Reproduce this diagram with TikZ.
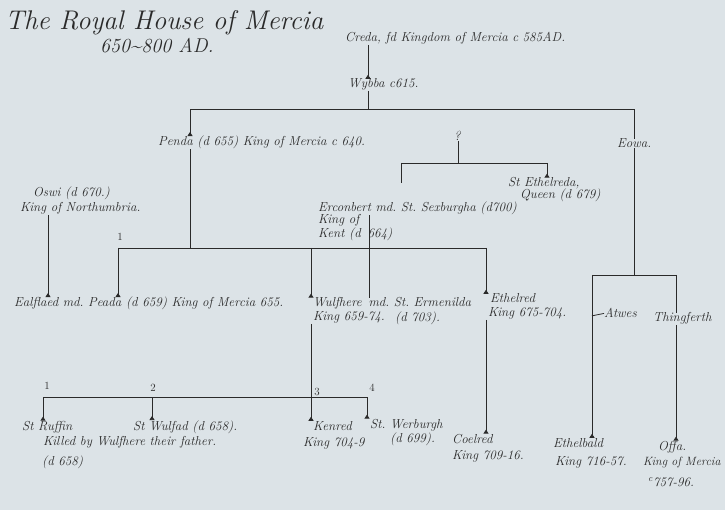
\documentclass[tikz,border=0pt]{standalone}
\usepackage{tikz}
\definecolor{paper}{HTML}{DCE3E7}
\definecolor{ink}{HTML}{2A2A2A}
\usetikzlibrary{arrows.meta,calc}
\tikzset{person/.style={
    font=\fontsize{13}{15}\selectfont\itshape,
    text=ink,
    inner sep=0pt,
    anchor=base west}}
\tikzset{line/.style={
    draw=ink,
    line width=0.8pt}}
\tikzset{kid/.style={
    line,
    -{Triangle[reversed,length=4pt,width=5pt]}}}
\tikzset{num/.style={
    font=\fontsize{11}{13}\selectfont,
    text=ink,
    inner sep=0pt,
    anchor=base}}
\frenchspacing

\begin{document}
\begin{tikzpicture}[x=1pt, y=-1pt]
  \fill[paper] (0,0) rectangle (725,510);
\useasboundingbox (0,0) rectangle (725,510);

\coordinate (W) at (368,109);
\coordinate (P) at (190,248);
\coordinate (P1) at (118,248);
\coordinate (P2) at (486,248);
\coordinate (E) at (634,275);
\coordinate (E1) at (592,275);
\coordinate (E2) at (676,275);
\coordinate (Q) at (458,163);
\coordinate (Q1) at (401,163);
\coordinate (Q2) at (547,163);
\coordinate (Q3) at (401,183);
\coordinate (S) at (369,0);
\coordinate (O) at (48,0);
\coordinate (U) at (311,397);
\coordinate (U1) at (43,397);
\coordinate (U2) at (152,397);
\coordinate (U4) at (367,397);

% title
\node[person,
  font=\fontsize{27}{30}\selectfont\itshape] (title) at (5,30) {The Royal House of Mercia};
\node[person,
  font=\fontsize{20}{22}\selectfont\itshape] (dates) at (100,53) {650\textasciitilde800 AD.};

% people
\node[person] (creda) at (345,42) {Creda, fd Kingdom of Mercia c 585AD.};
\node[person] (wybba) at (348,88) {Wybba c615.};
\node[person] (penda) at (158,146) {Penda (d 655) King of Mercia c 640.};
\node[person] (eowa) at (617,148) {Eowa.};
\node[person] (q) at (454,141) {?};
\node[person] (ethelreda) at (508,187) {St Ethelreda,};
\node[person] (ethelreda2) at (520,199) {Queen (d 679)};
\node[person] (oswi) at (33,197) {Oswi (d 670.)};
\node[person] (oswi2) at (20,212) {King of Northumbria.};
\node[person] (erconbert) at (318,212) {Erconbert md. St. Sexburgha (d700)};
\node[person] (erconbert2) at (318,224) {King of};
\node[person] (erconbert3) at (318,238) {Kent (d \,664)};
\node[person] (ealflaed) at (14,307) {Ealflaed md. Peada (d 659) King of Mercia 655.};
\node[person] (wulfhere) at (313,307) {Wulfhere \,md. St. Ermenilda};
\node[person] (wulfhere2) at (313,321) {King 659-74.};
\node[person] (ermenilda) at (395,322) {(d 703).};
\node[person] (ethelred) at (490,303) {Ethelred};
\node[person] (ethelred2) at (488,317) {King 675-704.};
\node[person] (atwes) at (604,318) {Atwes};
\node[person] (thingferth) at (653,322) {Thingferth};
\node[person] (ruffin) at (22,430) {St Ruffin};
\node[person] (ruffin2) at (43,445) {Killed by Wulfhere their father.};
\node[person] (ruffin3) at (42,465) {(d 658)};
\node[person] (wulfad) at (133,430) {St Wulfad (d 658).};
\node[person] (kenred) at (313,430) {Kenred};
\node[person] (kenred2) at (303,446) {King 704-9};
\node[person] (werburgh) at (370,428) {St. Werburgh};
\node[person] (werburgh2) at (390,442) {(d 699).};
\node[person] (coelred) at (452,443) {Coelred};
\node[person] (coelred2) at (452,459) {King 709-16.};
\node[person] (ethelbald) at (553,447) {Ethelbald};
\node[person] (ethelbald2) at (555,465) {King 716-57.};
\node[person] (offa) at (658,450) {Offa.};
\node[person,
  font=\fontsize{12}{14}\selectfont\itshape] (offa2) at (643,465) {King of Mercia};
\node[person] (offa3) at (648,486) {\textsuperscript{c}757-96.};

% numbers
\node[num] (n0) at (120,241) {1};
\node[num] (n1) at (47,389) {1};
\node[num] (n2) at (153,391) {2};
\node[num] (n3) at (317,395) {3};
\node[num] (n4) at (372,391) {4};

% lines
\draw[kid] (creda.south -| W) -- (wybba.north -| W);
\draw[line] (wybba.south -| W) -- (W);
\draw[kid] (W) -| (penda.north -| P);
\draw[line] (W) -| (eowa.north -| E);
\draw[line] (eowa.south -| E) -- (E);
\draw[line] (E1) -- (E2);
\draw[kid] (E1) -- (ethelbald.north -| E1);
\draw[line] (E1 |- atwes.mid) -- (atwes.west);
\draw[line] (E2) -- (thingferth.north -| E2);
\draw[kid] (thingferth.south -| E2) -- (offa.north -| E2);

\draw[line] (penda.south -| P) -- (P);
\draw[line] (P1) -- (P2);
\draw[kid] (P1) -- (ealflaed.north -| P1);
\draw[kid] (U |- P1) -- (wulfhere.north -| U);
\draw[kid] (P2) -- (ethelred.north -| P2);
\draw[kid] (ethelred2.south -| P2) -- (coelred.north -| P2);
\draw[kid] (oswi2.south -| O) -- (ealflaed.north -| O);

\draw[line] (q.south -| Q) -- (Q);
\draw[line] (Q1) -- (Q2);
\draw[line] (Q1) -- (Q3);
\draw[kid] (Q2) -- (ethelreda.north -| Q2);
\draw[line] (erconbert.south -| S) -- (wulfhere.north -| S);

\draw[line] (wulfhere2.south -| U) -- (U);
\draw[line] (U1) -- (U4);
\draw[kid] (U1) -- (ruffin.north -| U1);
\draw[kid] (U2) -- (wulfad.north -| U2);
\draw[kid] (U) -- (kenred.north -| U);
\draw[kid] (U4) -- (werburgh.north -| U4);

\end{tikzpicture}
\end{document}
